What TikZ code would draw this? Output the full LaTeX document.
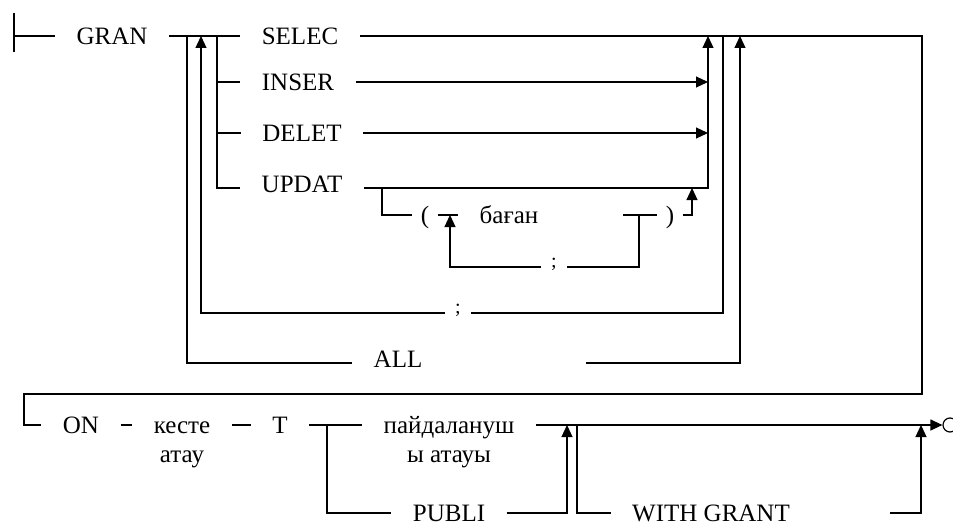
\documentclass[tikz,border=0pt]{standalone}
\usepackage{fontspec}
\setmainfont{Liberation Serif}
\usetikzlibrary{arrows.meta}
\usetikzlibrary{math}

\begin{document}
\begin{tikzpicture}[x=0.5pt,y=-0.5pt,line width=0.6pt,
  kw/.style={inner xsep=10.5pt,inner ysep=0pt,text height=8.5pt,text depth=0pt,font=\fontsize{12.5}{15}\selectfont},
  kwlow/.style={kw,text height=6.5pt,text depth=2pt},
  paren/.style={kw,inner xsep=4pt},
  semi/.style={inner xsep=5pt,inner ysep=0pt,text height=2pt,text depth=2pt,font=\fontsize{10}{11}\selectfont},
  arr/.style={-{Triangle[length=6pt,width=5.5pt]}}]
\tikzmath{
\yT=36;
\yI=82;
\yD=133;
\yU=188;
\yP=215;
\yC=267;
\yL=313;
\yA=363;
\yR=394;
\yB=425;
\yW=513;
}
\useasboundingbox (0,0) rectangle (953,524);

% first row: privileges
\node[kw] (gran) at (112,\yT) {GRAN};
\node[kw] (selec) at (300,\yT) {SELEC};
\node[kw] (inser) at (298,\yI) {INSER};
\node[kw] (delet) at (302,\yD) {DELET};
\node[kwlow] (updat) at (302,\yU) {UPDAT};
\node[paren] (lpar) at (425,\yP) {(};
\node[kw] (bagan) at (509,\yP) {баған};
\node[paren] (rpar) at (670,\yP) {)};
\node[semi] (ca) at (554,\yC) {;};
\node[semi] (cb) at (458,\yL) {;};
\node[kwlow] (all) at (398,\yA) {ALL};

\coordinate (st) at (14,\yT);
\coordinate (bA) at (187,\yT);
\coordinate (bC) at (201,\yT);
\coordinate (bS) at (217,\yT);
\coordinate (mS) at (708,\yT);
\coordinate (mC) at (723,\yT);
\coordinate (mA) at (740,\yT);
\coordinate (rc) at (922,\yT);
\coordinate (lc) at (24,\yR);

\draw (14,13) -- (14,52);
\draw (st) -- (gran.west);
\draw (gran.east) -- (selec.west);

\draw (bS) |- (inser.west);
\draw (bS) |- (delet.west);
\draw (bS) |- (updat.west);
\draw[arr] (inser.east) -- (inser.east -| mS);
\draw[arr] (delet.east) -- (delet.east -| mS);
\draw[arr] (updat.east) -| (mS);

% column list
\coordinate (pS) at (382,\yU);
\coordinate (pR) at (450,\yP);
\coordinate (pE) at (623,\yP);
\coordinate (pL) at (639,\yP);
\coordinate (pM) at (692,\yU);
\draw (pS) |- (lpar.west);
\draw (lpar.east) -- (bagan.west);
\draw (pE) -- (rpar.west);
\draw (pL) |- (ca.east);
\draw[arr] (ca.west) -| (pR);
\draw[arr] (rpar.east) -| (pM);

% repeat and ALL
\draw (mC) |- (cb.east);
\draw[arr] (cb.west) -| (bC);
\coordinate (aE) at (586,\yA);
\draw (bA) |- (all.west);
\draw[arr] (aE) -| (mA);

% second row
\node[kw] (on) at (81,\yB) {ON};
\node[kw] (keste) at (182,\yB) {кесте};
\node[kw] (kesteb) at (182,\yB+28.5) {атау};
\node[kw] (tt) at (280,\yB) {T};
\node[kw] (user) at (449,\yB) {пайдалануш};
\node[kw] (userb) at (449,\yB+29) {ы атауы};
\node[kw] (publi) at (449,\yW) {PUBLI};
\node[kw] (wg) at (711,\yW) {WITH GRANT};
\node[circle,draw,inner sep=0pt,minimum size=7pt] (endc) at (950,\yB) {};

\coordinate (tS) at (327,\yB);
\coordinate (uM) at (567,\yB);
\coordinate (wS) at (577,\yB);
\coordinate (wE) at (890,\yW);
\coordinate (wM) at (921,\yB);

\draw (selec.east) -- (rc) |- (lc) |- (on.west);
\draw (on.east) -- (keste.west);
\draw (keste.east) -- (tt.west);
\draw (tt.east) -- (user.west);
\draw (tS) |- (publi.west);
\draw[arr] (user.east) -- (endc.west);
\draw[arr] (publi.east) -| (uM);
\draw (wS) |- (wg.west);
\draw[arr] (wE) -| (wM);
\end{tikzpicture}
\end{document}
